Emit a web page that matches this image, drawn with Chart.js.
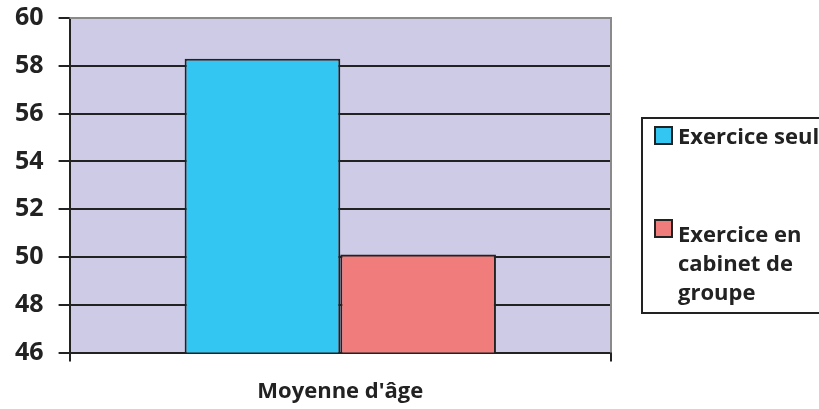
<!DOCTYPE html>
<html>
<head>
<meta charset="utf-8">
<script src="https://cdn.jsdelivr.net/npm/chart.js@4/dist/chart.umd.min.js"></script>
<style>
    html, body { margin: 0; padding: 0; background: #ffffff; }
    #wrap { width: 819px; height: 409px; position: relative; }
</style>
</head>
<body>
<div id="wrap"><canvas id="ageChart"></canvas></div>
<script>
const categories = ["Moyenne d'âge"];
const seriesLabels = [['Exercice seul'], ['Exercice en', 'cabinet de', 'groupe']];
const exerciceSeul = [58.3];
const exerciceGroupe = [50.1];
const yMin = 46;
const yMax = 60;
const yStep = 2;

const FONT = "'Open Sans', 'DejaVu Sans', sans-serif";
const INK = '#222222';

// lavender plot area + gray frame on top/right
const plotBackground = {
    id: 'plotBackground',
    beforeDraw(chart) {
        const { ctx, chartArea: a } = chart;
        ctx.save();
        ctx.fillStyle = '#CDCBE6';
        ctx.fillRect(a.left, a.top, a.right - a.left, a.bottom - a.top);
        ctx.restore();
    },
    afterDatasetsDraw(chart) {
        const { ctx, chartArea: a } = chart;
        ctx.save();
        ctx.strokeStyle = '#8a8a8a';
        ctx.lineWidth = 2;
        ctx.beginPath();
        ctx.moveTo(a.left, a.top);
        ctx.lineTo(a.right, a.top);
        ctx.lineTo(a.right, a.bottom);
        ctx.stroke();
        ctx.restore();
    }
};

// boxed legend on the right, with wrapped labels
const boxLegend = {
    id: 'boxLegend',
    afterDraw(chart) {
        const { ctx } = chart;
        ctx.save();
        ctx.strokeStyle = INK;
        ctx.lineWidth = 2;
        ctx.strokeRect(642, 118, 190, 195);
        ctx.font = 'bold 22px ' + FONT;
        ctx.textBaseline = 'alphabetic';
        const swatchTop = [127, 220];
        const baseline = [144, 242];
        chart.data.datasets.forEach((ds, i) => {
            ctx.fillStyle = ds.backgroundColor;
            ctx.fillRect(655, swatchTop[i], 17, 17);
            ctx.strokeStyle = INK;
            ctx.lineWidth = 2;
            ctx.strokeRect(655, swatchTop[i], 17, 17);
            ctx.fillStyle = INK;
            ds.label.forEach((line, j) => {
                ctx.fillText(line, 678, baseline[i] + j * 29);
            });
        });
        ctx.restore();
    }
};

const ctx = document.getElementById('ageChart').getContext('2d');
new Chart(ctx, {
    type: 'bar',
    data: {
        labels: categories,
        datasets: [
            {
                label: seriesLabels[0],
                data: exerciceSeul,
                backgroundColor: '#33C6F2',
                borderColor: INK,
                borderWidth: 2,
                borderSkipped: false
            },
            {
                label: seriesLabels[1],
                data: exerciceGroupe,
                backgroundColor: '#F07C7C',
                borderColor: INK,
                borderWidth: 2,
                borderSkipped: false
            }
        ]
    },
    options: {
        responsive: true,
        maintainAspectRatio: false,
        animation: false,
        datasets: {
            bar: { barPercentage: 1, categoryPercentage: 0.575 }
        },
        layout: { padding: { top: 0, right: 208, left: 0, bottom: -13 } },
        plugins: {
            legend: { display: false },
            tooltip: { enabled: false }
        },
        scales: {
            x: {
                grid: {
                    drawOnChartArea: false,
                    drawTicks: true,
                    tickLength: 9,
                    color: INK,
                    lineWidth: 2
                },
                border: { display: true, color: INK, width: 2 },
                ticks: {
                    color: INK,
                    padding: 17,
                    font: { family: FONT, size: 22, weight: 'bold' }
                }
            },
            y: {
                min: yMin,
                max: yMax,
                ticks: {
                    stepSize: yStep,
                    color: INK,
                    padding: 15,
                    font: { family: FONT, size: 25, weight: 'bold', lineHeight: 0.24 }
                },
                grid: {
                    color: c => (c.tick && c.tick.value === yMax ? 'rgba(0,0,0,0)' : INK),
                    lineWidth: 2,
                    tickLength: 11,
                    tickColor: INK
                },
                border: { display: true, color: INK, width: 2 }
            }
        }
    },
    plugins: [plotBackground, boxLegend]
});
</script>
</body>
</html>
